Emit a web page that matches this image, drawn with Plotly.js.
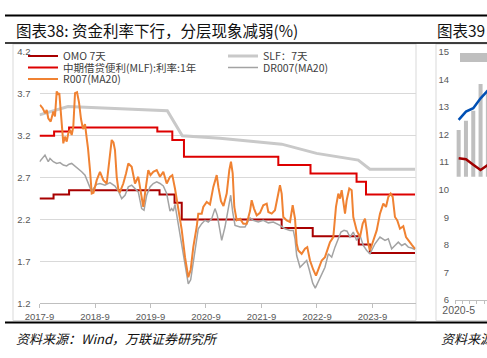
<!DOCTYPE html>
<html><head><meta charset="utf-8">
<script src="https://cdn.plot.ly/plotly-3.0.1.min.js"></script>
<style>html,body{margin:0;padding:0;background:#fff;}#chart{width:487px;height:358px;}</style>
</head><body><div id="chart"></div>
<script>
// ---- Chart 38 data (x in decimal years) ----
const r007X = [2017.676,2017.724,2017.766,2017.797,2017.825,2017.869,2017.916,2017.946,2017.977,2018.006,
2018.024,2018.049,2018.067,2018.096,2018.126,2018.157,2018.186,2018.217,2018.247,2018.276,
2018.307,2018.343,2018.379,2018.415,2018.451,2018.487,2018.514,2018.541,2018.577,2018.608,
2018.640,2018.698,2018.757,2018.817,2018.878,2018.937,2018.968,2019.000,2019.027,2019.058,
2019.090,2019.117,2019.177,2019.226,2019.267,2019.328,2019.388,2019.447,2019.508,2019.537,
2019.580,2019.627,2019.667,2019.717,2019.779,2019.838,2019.898,2019.959,2020.018,2020.060,
2020.108,2020.168,2020.229,2020.289,2020.348,2020.391,2020.438,2020.499,2020.528,2020.590,
2020.618,2020.680,2020.739,2020.799,2020.860,2020.892,2020.937,2020.982,2021.040,2021.087,
2021.117,2021.148,2021.177,2021.220,2021.280,2021.339,2021.400,2021.460,2021.490,2021.532,
2021.581,2021.640,2021.699,2021.761,2021.790,2021.851,2021.910,2021.970,2022.000,2022.031,
2022.060,2022.121,2022.181,2022.229,2022.271,2022.301,2022.330,2022.391,2022.451,2022.492,
2022.541,2022.600,2022.649,2022.690,2022.752,2022.811,2022.853,2022.901,2022.961,2023.009,
2023.051,2023.081,2023.112,2023.172,2023.202,2023.249,2023.292,2023.321,2023.382,2023.442,
2023.490,2023.532,2023.563,2023.591,2023.622,2023.681,2023.743,2023.802,2023.862,2023.910,
2023.952,2023.995,2024.031,2024.072,2024.114,2024.162,2024.222,2024.271,2024.330,2024.373,
2024.433];
const r007Y = [3.57,3.53,3.47,3.51,3.41,3.37,3.49,3.43,3.73,3.69,
3.71,3.47,3.31,3.11,3.19,3.13,3.23,3.27,3.21,3.31,
3.71,3.72,3.60,3.40,3.28,3.34,3.19,3.05,2.79,2.51,
2.52,2.67,2.77,2.67,2.63,2.95,3.15,3.12,3.03,2.71,
2.55,2.53,2.63,2.75,2.87,2.83,2.63,2.71,2.49,2.35,
2.57,2.79,2.73,2.77,2.79,2.71,2.77,2.63,2.71,2.73,
2.57,2.35,2.08,1.75,1.51,1.60,1.87,2.11,2.27,2.27,
2.35,2.41,2.38,2.59,2.73,2.58,2.42,2.36,2.51,2.79,
2.89,2.75,2.35,2.19,2.21,2.15,2.15,2.30,2.43,2.33,
2.25,2.28,2.37,2.39,2.29,2.27,2.31,2.51,2.61,2.51,
2.23,2.19,2.17,2.37,2.21,1.91,1.83,1.79,1.85,1.87,
1.71,1.60,1.53,1.60,1.71,1.75,1.83,1.93,1.99,2.35,
2.51,2.45,2.55,2.27,2.43,2.57,2.55,2.23,2.07,1.99,
2.15,2.21,2.07,1.91,1.83,1.95,2.07,2.27,2.39,2.35,
2.47,2.51,2.47,2.23,2.19,2.09,2.12,1.99,1.93,1.90,
1.85];
const dr007X = [2017.667,2017.730,2017.766,2017.825,2017.856,2017.916,2017.977,2018.036,2018.096,2018.157,
2018.199,2018.247,2018.307,2018.366,2018.427,2018.487,2018.546,2018.608,2018.636,2018.698,
2018.757,2018.847,2018.937,2019.027,2019.087,2019.148,2019.208,2019.267,2019.328,2019.388,
2019.447,2019.508,2019.550,2019.599,2019.658,2019.717,2019.779,2019.838,2019.898,2019.959,
2020.018,2020.049,2020.078,2020.108,2020.168,2020.229,2020.289,2020.348,2020.391,2020.438,
2020.499,2020.528,2020.590,2020.649,2020.708,2020.770,2020.829,2020.871,2020.910,2020.950,
2021.009,2021.069,2021.112,2021.148,2021.190,2021.280,2021.370,2021.460,2021.519,2021.609,
2021.699,2021.790,2021.880,2022.000,2022.090,2022.181,2022.240,2022.271,2022.301,2022.361,
2022.420,2022.481,2022.528,2022.590,2022.636,2022.690,2022.752,2022.811,2022.871,2022.932,
2022.991,2023.051,2023.099,2023.154,2023.208,2023.262,2023.321,2023.382,2023.442,2023.501,
2023.563,2023.622,2023.712,2023.802,2023.892,2023.952,2024.013,2024.072,2024.132,2024.193,
2024.252,2024.312,2024.373,2024.433];
const dr007Y = [2.89,2.95,2.97,2.89,2.93,2.89,2.87,2.88,2.85,2.84,
2.86,2.87,2.84,2.80,2.77,2.73,2.63,2.53,2.57,2.62,
2.63,2.61,2.64,2.60,2.54,2.45,2.49,2.59,2.61,2.57,
2.53,2.33,2.31,2.49,2.59,2.63,2.65,2.63,2.60,2.51,
2.30,2.33,2.30,2.38,2.15,1.93,1.70,1.43,1.48,1.71,
1.99,2.09,2.15,2.19,2.17,2.21,2.33,2.25,2.10,1.95,
2.11,2.31,2.49,2.29,2.13,2.11,2.11,2.22,2.19,2.17,
2.19,2.16,2.17,2.13,2.09,2.07,2.07,1.97,1.77,1.63,
1.67,1.71,1.60,1.44,1.38,1.46,1.56,1.63,1.79,1.75,
1.87,1.97,2.05,2.07,2.06,1.99,2.05,1.95,2.01,1.89,
1.83,1.79,1.91,1.99,1.95,1.97,1.85,1.89,1.93,1.89,
1.91,1.87,1.86,1.84];
const slfX = [2017.667,2018.180,2019.970,2020.240,2020.919,2022.031,2022.660,2023.410,2023.620,2024.433];
const slfY = [3.45,3.55,3.50,3.20,3.17,3.10,2.99,2.91,2.80,2.80];
const mlfX = [2017.667,2017.930,2018.200,2019.790,2020.060,2020.270,2021.970,2022.550,2023.380,2023.550,2024.433];
const mlfY = [3.20,3.25,3.30,3.25,3.15,2.95,2.85,2.75,2.65,2.50,2.50];
const omoX = [2017.667,2017.920,2018.200,2019.830,2020.100,2020.230,2022.030,2022.590,2023.420,2023.620,2024.433];
const omoY = [2.45,2.50,2.55,2.50,2.40,2.20,2.10,2.00,1.90,1.80,1.80];
const yearTickVals = [2017.667,2018.667,2019.667,2020.667,2021.667,2022.667,2023.667];
const yearTickText = ['2017-9','2018-9','2019-9','2020-9','2021-9','2022-9','2023-9'];

// ---- Chart 39 (partially visible) ----
const c39X = [0,1,2,3,4,5];
const c39TickText = ['2020-5'];
const c39BarTop = [12.16,12.50,12.86,13.83,13.60,13.50];
const C39_BAR_BASE = 10.47;
const c39Blue = [12.53,12.83,12.95,13.31,13.60,13.80];
const c39Red = [11.14,11.10,10.90,10.71,10.90,11.10];

const W = 487, H = 358;
const px = v => v / W;
const py = v => 1 - v / H;
const FONT = 'Noto Sans CJK SC, Liberation Sans, sans-serif';
const AX = 'Liberation Sans, Noto Sans CJK SC, sans-serif';

const traces = [
  {x: omoX, y: omoY, name: 'OMO 7天', mode: 'lines', line: {color: '#A80000', width: 2, shape: 'hv'}, legend: 'legend'},
  {x: slfX, y: slfY, name: 'SLF：7天', mode: 'lines', line: {color: '#C9C9C9', width: 3}, legend: 'legend'},
  {x: mlfX, y: mlfY, name: '中期借贷便利(MLF):利率:1年', mode: 'lines', line: {color: '#DD0000', width: 2, shape: 'hv'}, legend: 'legend2'},
  {x: dr007X, y: dr007Y, name: 'DR007(MA20)', mode: 'lines', line: {color: '#A3A3A3', width: 1.5}, legend: 'legend2'},
  {x: r007X, y: r007Y, name: 'R007(MA20)', mode: 'lines', line: {color: '#F08232', width: 2}, legend: 'legend3'},
  {x: c39X, y: c39BarTop.map(v => v - C39_BAR_BASE), base: C39_BAR_BASE, type: 'bar', width: 0.55,
   marker: {color: '#BFBFBF'}, xaxis: 'x2', yaxis: 'y2', showlegend: false},
  {x: c39X, y: c39Blue, mode: 'lines', line: {color: '#0050B4', width: 2.5}, xaxis: 'x2', yaxis: 'y2', showlegend: false},
  {x: c39X, y: c39Red, mode: 'lines', line: {color: '#A00000', width: 2.5}, xaxis: 'x2', yaxis: 'y2', showlegend: false}
];

const legBase = {orientation: 'h', xanchor: 'left', yanchor: 'middle', bgcolor: 'rgba(0,0,0,0)',
  borderwidth: 0, entrywidth: 155, entrywidthmode: 'pixels', itemwidth: 30,
  font: {family: FONT, size: 10.5, color: '#404040'}, itemclick: false, itemdoubleclick: false};

const layout = {
  width: W, height: H, autosize: false,
  margin: {l: 0, r: 0, t: 0, b: 0},
  paper_bgcolor: '#fff', plot_bgcolor: 'rgba(0,0,0,0)',
  showlegend: true,
  xaxis: {domain: [px(39.5), px(416)], range: [2017.667, 2024.451], tickvals: yearTickVals, ticktext: yearTickText,
    showgrid: false, zeroline: false, showline: true, linecolor: '#BFBFBF', linewidth: 1,
    ticks: 'outside', ticklen: 4, tickcolor: '#BFBFBF', tickfont: {family: AX, size: 9.5, color: '#595959'}, fixedrange: true},
  yaxis: {domain: [1 - 303.3 / H, 1 - 52 / H], range: [1.199, 4.201], tick0: 1.2, dtick: 0.5, tickformat: '.1f',
    showgrid: true, gridcolor: '#D9D9D9', gridwidth: 1, zeroline: false, showline: false, ticks: '',
    ticklabelstandoff: 8, tickfont: {family: AX, size: 9.5, color: '#595959'}, fixedrange: true},
  xaxis2: {domain: [px(455), 1], range: [-0.5, 3.88], anchor: 'y2', tickvals: [0], ticktext: c39TickText,
    ticks: '', showgrid: false, zeroline: false, showline: true, linecolor: '#BFBFBF',
    minor: {ticks: 'outside', tick0: -0.5, dtick: 1, ticklen: 3, tickcolor: '#BFBFBF'},
    tickfont: {family: AX, size: 10.5, color: '#595959'}, fixedrange: true},
  yaxis2: {domain: [1 - 300 / H, 1 - 51.7 / H], range: [6, 15], dtick: 1, anchor: 'x2', showgrid: false,
    zeroline: false, showline: false, ticks: '', ticklabelstandoff: 5,
    tickfont: {family: AX, size: 9.5, color: '#595959'}, fixedrange: true},
  legend: Object.assign({}, legBase, {x: px(23), y: py(56)}),
  legend2: Object.assign({}, legBase, {x: px(23), y: py(67.5)}),
  legend3: Object.assign({}, legBase, {x: px(23), y: py(79)}),
  shapes: [
    {type: 'rect', xref: 'paper', yref: 'paper', x0: px(13), x1: px(416), y0: py(320.5), y1: py(44), line: {color: '#D9D9D9', width: 1}, layer: 'below'},
    {type: 'rect', xref: 'paper', yref: 'paper', x0: px(436), x1: px(495), y0: py(320.5), y1: py(44), line: {color: '#D9D9D9', width: 1}, layer: 'below'},
    {type: 'rect', xref: 'paper', yref: 'paper', x0: px(460), x1: px(492), y0: py(62), y1: py(53), fillcolor: '#BFBFBF', line: {width: 0}},
    {type: 'line', xref: 'paper', yref: 'paper', x0: px(5), x1: 1, y0: py(15.5), y1: py(15.5), line: {color: '#000', width: 2}},
    {type: 'line', xref: 'paper', yref: 'paper', x0: px(5), x1: 1, y0: py(43), y1: py(43), line: {color: '#000', width: 1.5}},
    {type: 'line', xref: 'paper', yref: 'paper', x0: px(5), x1: 1, y0: py(322.5), y1: py(322.5), line: {color: '#000', width: 2}}
  ],
  annotations: [
    {xref: 'paper', yref: 'paper', x: px(14), y: py(30.5), xanchor: 'left', yanchor: 'middle', showarrow: false,
     text: '图表38: 资金利率下行，分层现象减弱(%)', font: {family: FONT, size: 15.5, color: '#111'}},
    {xref: 'paper', yref: 'paper', x: px(435), y: py(30.5), xanchor: 'left', yanchor: 'middle', showarrow: false,
     text: '图表39', font: {family: FONT, size: 15.5, color: '#111'}},
    {xref: 'paper', yref: 'paper', x: px(14), y: py(338), xanchor: 'left', yanchor: 'middle', showarrow: false,
     text: '资料来源：Wind，万联证券研究所', font: {family: FONT, size: 13, color: '#111', style: 'italic'}},
    {xref: 'paper', yref: 'paper', x: px(439), y: py(338), xanchor: 'left', yanchor: 'middle', showarrow: false,
     text: '资料来源', font: {family: FONT, size: 13, color: '#111', style: 'italic'}}
  ]
};

Plotly.newPlot('chart', traces, layout, {displayModeBar: false, staticPlot: true});
</script></body></html>
